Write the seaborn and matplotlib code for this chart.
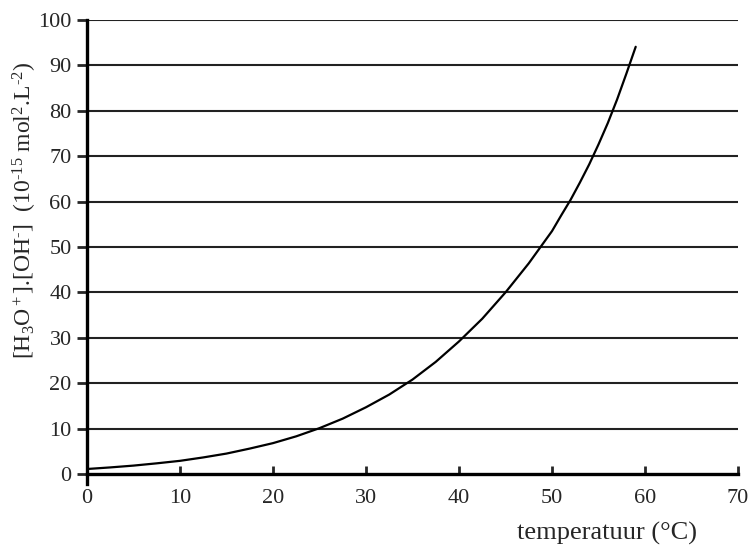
import numpy as np
import pandas as pd
import matplotlib
matplotlib.use("Agg")
import matplotlib.pyplot as plt
import seaborn as sns

# Data
temperature = [0, 2.5, 5, 7.5, 10, 12.5, 15, 17.5, 20, 22.5, 25, 27.5, 30, 32.5,
               35, 37.5, 40, 42.5, 45, 47.5, 50, 51, 52, 53, 54, 55, 56, 57, 58, 59]
kw_values = [1.1, 1.45, 1.85, 2.35, 2.9, 3.65, 4.5, 5.6, 6.8, 8.3, 10.1, 12.2, 14.7,
             17.5, 20.8, 24.7, 29.2, 34.2, 40.0, 46.4, 53.5, 57.0, 60.4, 64.2, 68.2,
             72.6, 77.3, 82.5, 88.2, 94.1]
x_ticks = [0, 10, 20, 30, 40, 50, 60, 70]
y_ticks = [0, 10, 20, 30, 40, 50, 60, 70, 80, 90, 100]

df = pd.DataFrame({"temperatuur": temperature, "kw": kw_values})

sns.set_style("white")
plt.rcParams['font.family'] = ['Liberation Serif', 'DejaVu Serif']
plt.rcParams['mathtext.fontset'] = 'custom'
plt.rcParams['mathtext.rm'] = 'Liberation Serif'
plt.rcParams['mathtext.it'] = 'Liberation Serif:italic'
plt.rcParams['mathtext.default'] = 'rm'

fig = plt.figure(figsize=(7.54, 5.48), dpi=100)
ax = fig.add_axes([87/754, 1 - 474/548, (738-87)/754, (474-20)/548])

for y in y_ticks[1:]:
    ax.axhline(y, color="#222222", lw=1.5, zorder=1)

sns.lineplot(data=df, x="temperatuur", y="kw", ax=ax, color="black", lw=1.6, zorder=3)

ax.set_xlim(0, 70)
ax.set_ylim(0, 100)
ax.set_xticks(x_ticks)
ax.set_yticks(y_ticks)
ax.tick_params(axis="x", direction="in", length=6, width=2, labelsize=16, pad=11)
ax.tick_params(axis="y", direction="out", length=7, width=2, labelsize=16, pad=4)
ax.xaxis.set_ticks_position("bottom")
ax.yaxis.set_ticks_position("left")

for side in ["top", "right"]:
    ax.spines[side].set_visible(False)
for side in ["left", "bottom"]:
    ax.spines[side].set_linewidth(2.4)
    ax.spines[side].set_color("black")
ax.spines["left"].set_bounds(-2.2, 100)
ax.spines["left"].set_clip_on(False)

ax.set_xlabel("")
ax.set_ylabel("")
fig.text(607/754, 1 - 533/548, "temperatuur (°C)", ha="center", va="center", fontsize=19)
fig.text(25/754, 1 - 210/548,
         "[H$_3$O$^+$].[OH$^{\u2010}$]  (10$^{\u201015}$ mol$^2$.L$^{\u20102}$)",
         rotation=90, ha="center", va="center", fontsize=17)

fig.savefig("out.png", dpi=100, facecolor="white")
